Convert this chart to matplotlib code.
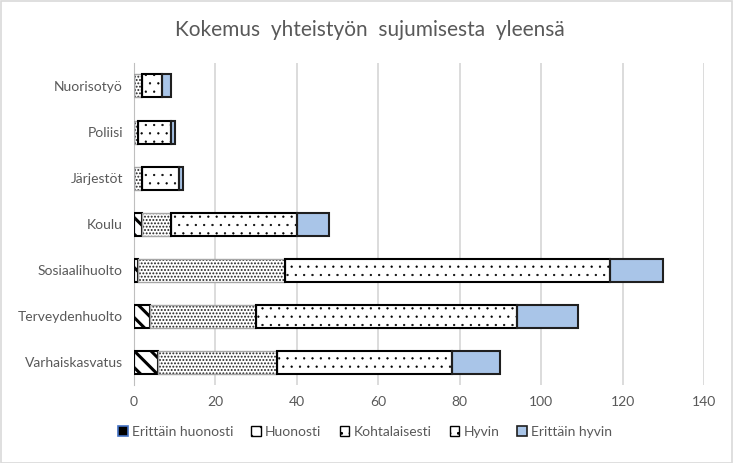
import numpy as np
import matplotlib
matplotlib.use('Agg')
import matplotlib.pyplot as plt
from matplotlib.patches import Patch, Rectangle

plt.rcParams['font.family'] = ['Lato', 'DejaVu Sans']

# data (bottom to top)
categories = ['Varhaiskasvatus', 'Terveydenhuolto', 'Sosiaalihuolto', 'Koulu',
              'Järjestöt', 'Poliisi', 'Nuorisotyö']
erittain_huonosti = [0, 0, 0, 0, 0, 0, 0]
huonosti = [6, 4, 1, 2, 0, 0, 0]
kohtalaisesti = [29, 26, 36, 7, 2, 1, 2]
hyvin = [43, 64, 80, 31, 9, 8, 5]
erittain_hyvin = [12, 15, 13, 8, 1, 1, 2]
series_names = ['Erittäin huonosti', 'Huonosti', 'Kohtalaisesti', 'Hyvin', 'Erittäin hyvin']
xticks = [0, 20, 40, 60, 80, 100, 120, 140]

series = [erittain_huonosti, huonosti, kohtalaisesti, hyvin, erittain_hyvin]
# (face, hatch colour, hatch, hatch width, border colour, border width)
styles = [
    ('black', 'black', None, 1.0, '#4472c4', 0.8),
    ('white', 'black', '\\\\', 2.2, 'black', 1.5),
    ('white', '#202020', '.....', 0.9, '#a6a6a6', 1.0),
    ('white', 'black', '..', 0.4, 'black', 1.5),
    ('#a9c5e8', '#a9c5e8', None, 1.0, '#1f1f1f', 1.5),
]

fig = plt.figure(figsize=(7.33, 4.63), dpi=100)
ax = fig.add_axes([0.1828, 0.168, 0.7777, 0.696])

y = np.arange(len(categories))
left = np.zeros(len(categories))
handles = []
for vals, name, (fc, hc, hatch, hw, ec, lw) in zip(series, series_names, styles):
    vals = np.array(vals, dtype=float)
    plt.rcParams['hatch.linewidth'] = hw
    ax.barh(y, vals, left=left, height=0.5, color=fc, edgecolor=hc,
            hatch=hatch, linewidth=0, zorder=2)
    ax.barh(y, vals, left=left, height=0.5, facecolor='none', edgecolor=ec,
            linewidth=lw, zorder=3)
    left += vals
    if hatch:
        handles.append(Patch(facecolor=fc, edgecolor='black', hatch=hatch[:2], linewidth=1.0))
    else:
        handles.append(Patch(facecolor=fc, edgecolor=ec, linewidth=1.2))

ax.set_xlim(0, 140)
ax.set_ylim(-0.5, len(categories) - 0.5)
ax.set_xticks(xticks)
ax.set_yticks(y)
ax.set_yticklabels(categories)
ax.xaxis.grid(True, color='#d9d9d9', linewidth=1.3, zorder=0)
ax.set_axisbelow(True)
for s in ['top', 'right', 'bottom']:
    ax.spines[s].set_visible(False)
ax.spines['left'].set_color('#bfbfbf')
ax.tick_params(axis='both', length=0, labelsize=10, labelcolor='#595959')
ax.tick_params(axis='x', pad=8)
ax.tick_params(axis='y', pad=8)

fig.text(0.505, 0.935, 'Kokemus  yhteistyön  sujumisesta  yleensä',
         ha='center', va='center', fontsize=15, color='#595959')

plt.rcParams['hatch.linewidth'] = 0.8
fig.legend(handles=handles, labels=series_names, loc='center',
           bbox_to_anchor=(0.498, 0.068), ncol=5, frameon=False,
           handlelength=0.7, handleheight=0.7, handletextpad=0.3,
           columnspacing=1.3, fontsize=10, labelcolor='#595959')

fig.patches.append(Rectangle((0.001, 0.001), 0.998, 0.997, transform=fig.transFigure,
                             fill=False, edgecolor='#d9d9d9', linewidth=1.2))

fig.savefig('out.png', dpi=100, facecolor='white')
